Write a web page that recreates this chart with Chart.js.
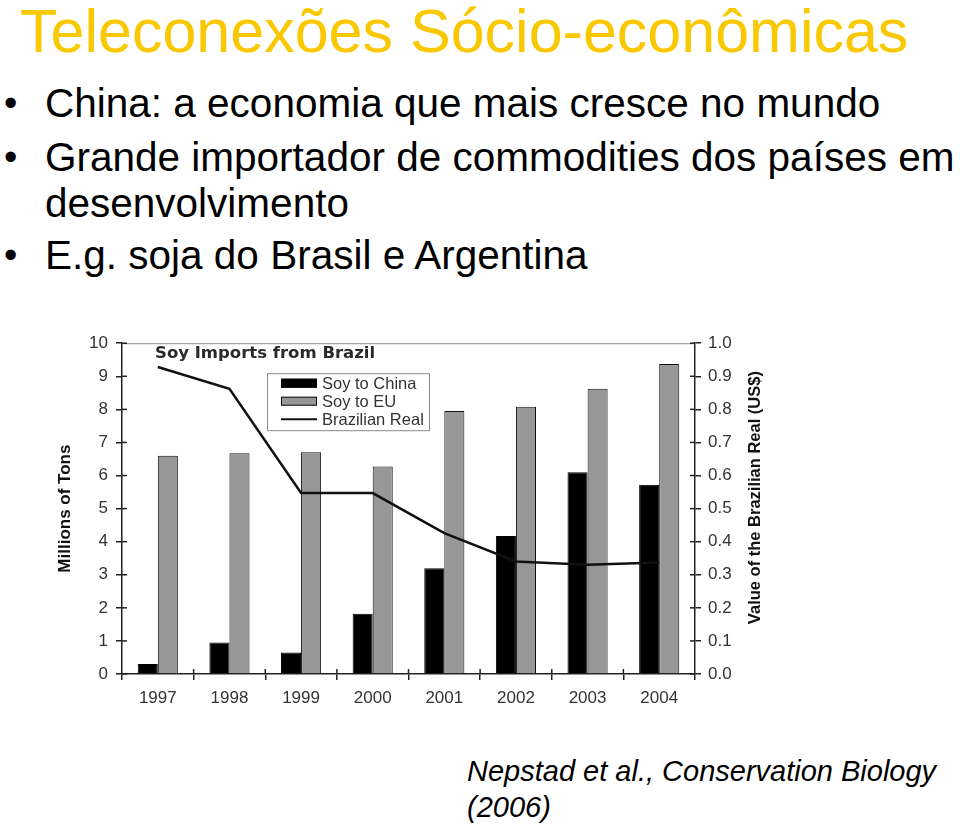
<!DOCTYPE html>
<html lang="pt">
<head>
    <meta charset="UTF-8">
    <title>Teleconexões Sócio-econômicas</title>
    <script src="https://cdn.jsdelivr.net/npm/chart.js"></script>
    <style>
        body { margin: 0; width: 960px; height: 825px; background: #fff; position: relative; overflow: hidden;
               font-family: Arial, "Liberation Sans", sans-serif; }
        .title { position: absolute; left: 20px; top: 1px; font-size: 61px; line-height: 60px; color: #fac800; white-space: nowrap; }
        .line { position: absolute; left: 45px; font-size: 40.5px; line-height: 40px; color: #000; white-space: nowrap; }
        .dot { position: absolute; left: 4px; font-size: 38px; line-height: 40px; }
        .cite { position: absolute; left: 467px; font-size: 29px; line-height: 29px; font-style: italic; white-space: nowrap; }
        #box { position: absolute; left: 44px; top: 325px; width: 741px; height: 395px; }
    </style>
</head>
<body>
    <div class="title">Teleconexões Sócio-econômicas</div>

    <div class="dot" style="top:83px">•</div>
    <div class="line" style="top:83px">China: a economia que mais cresce no mundo</div>
    <div class="dot" style="top:137px">•</div>
    <div class="line" style="top:137px">Grande importador de commodities dos países em</div>
    <div class="line" style="top:183px">desenvolvimento</div>
    <div class="dot" style="top:235px">•</div>
    <div class="line" style="top:235px">E.g. soja do Brasil e Argentina</div>

    <div id="box"><canvas id="soyChart"></canvas></div>

    <div class="cite" style="top:757px">Nepstad et al., Conservation Biology</div>
    <div class="cite" style="top:793px">(2006)</div>
<script>
    // values
    var years = ['1997', '1998', '1999', '2000', '2001', '2002', '2003', '2004'];
    var soyChina = [0.3, 0.95, 0.65, 1.82, 3.2, 4.17, 6.1, 5.72];
    var soyEU = [6.6, 6.67, 6.7, 6.27, 7.95, 8.08, 8.62, 9.37];
    var realUSD = [0.928, 0.862, 0.547, 0.547, 0.426, 0.34, 0.33, 0.337];

    var chartTitle = 'Soy Imports from Brazil';
    var leftTitle = 'Millions of Tons';
    var rightTitle = 'Value of the Brazilian Real (US$)';

    Chart.defaults.font.family = 'Arial, "Liberation Sans", sans-serif';
    Chart.defaults.font.size = 17;
    Chart.defaults.color = '#333';

    function seg(ctx, x1, y1, x2, y2){
        ctx.beginPath();
        ctx.moveTo(x1, y1);
        ctx.lineTo(x2, y2);
        ctx.stroke();
    }

    // frame, inner half of ticks, title, legend box and axis titles
    var extras = {
        id: 'extras',
        afterDraw: function(chart){
            var ctx = chart.ctx, a = chart.chartArea, s = chart.scales;
            ctx.save();

            ctx.strokeStyle = '#8a8a8a';
            ctx.lineWidth = 1;
            seg(ctx, a.left, a.top + 0.5, a.right, a.top + 0.5);

            ctx.strokeStyle = '#222';
            ctx.lineWidth = 1.5;
            s.y.ticks.forEach(function(t, i){
                var y = s.y.getPixelForTick(i);
                seg(ctx, a.left, y, a.left + 5, y);
            });
            s.y1.ticks.forEach(function(t, i){
                var y = s.y1.getPixelForTick(i);
                seg(ctx, a.right - 5, y, a.right, y);
            });
            var n = years.length, w = (s.x.right - s.x.left) / n;
            for (var i = 1; i < n; i++) {
                var x = s.x.left + i * w;
                seg(ctx, x, a.bottom - 5, x, a.bottom);
            }

            // chart title
            ctx.fillStyle = '#2a2a2a';
            ctx.font = 'bold 16.5px "DejaVu Sans", Verdana, sans-serif';
            ctx.textAlign = 'left';
            ctx.textBaseline = 'middle';
            ctx.fillText(chartTitle, a.left + 33, a.top + 11);

            // legend
            var lx = a.left + 145, ly = a.top + 30;
            ctx.strokeStyle = '#8a8a8a';
            ctx.lineWidth = 1;
            ctx.strokeRect(lx + 0.5, ly + 0.5, 162, 57);
            ctx.font = '16.5px Arial, "Liberation Sans", sans-serif';
            chart.data.datasets.forEach(function(ds, k){
                var cy = ly + 10 + k * 18;
                if (ds.type === 'line') {
                    ctx.strokeStyle = ds.borderColor;
                    ctx.lineWidth = 2;
                    seg(ctx, lx + 14, cy, lx + 50, cy);
                } else {
                    ctx.fillStyle = ds.backgroundColor;
                    ctx.fillRect(lx + 14, cy - 4.5, 36, 9);
                    ctx.strokeStyle = ds.borderColor;
                    ctx.lineWidth = 1;
                    ctx.strokeRect(lx + 14.5, cy - 4, 35, 8);
                }
                ctx.fillStyle = '#333';
                ctx.fillText(ds.label, lx + 55, cy + 1);
            });

            // axis titles, both read bottom to top
            ctx.fillStyle = '#111';
            ctx.font = 'bold 17px Arial, "Liberation Sans", sans-serif';
            ctx.textAlign = 'center';
            ctx.save();
            ctx.translate(21, (a.top + a.bottom) / 2);
            ctx.rotate(-Math.PI / 2);
            ctx.fillText(leftTitle, 0, 0);
            ctx.restore();
            ctx.save();
            ctx.font = 'bold 16.5px Arial, "Liberation Sans", sans-serif';
            ctx.translate(a.right + 60, (a.top + a.bottom) / 2 - 11);
            ctx.rotate(-Math.PI / 2);
            ctx.fillText(rightTitle, 0, 0);
            ctx.restore();

            ctx.restore();
        }
    };

    var axisGrid = { drawOnChartArea: false, color: '#222', lineWidth: 1.5, tickLength: 6 };
    var axisBorder = { display: true, color: '#222', width: 1.5 };

    new Chart(document.querySelector('#soyChart'), {
        type: 'bar',
        data: {
            labels: years,
            datasets: [
                {
                    label: 'Soy to China',
                    data: soyChina,
                    yAxisID: 'y',
                    backgroundColor: '#000',
                    borderColor: '#000',
                    borderWidth: 1,
                    order: 1
                },
                {
                    label: 'Soy to EU',
                    data: soyEU,
                    yAxisID: 'y',
                    backgroundColor: '#979797',
                    borderColor: '#111',
                    borderWidth: 1,
                    order: 1
                },
                {
                    type: 'line',
                    label: 'Brazilian Real',
                    data: realUSD,
                    yAxisID: 'y1',
                    borderColor: '#111',
                    borderWidth: 2.5,
                    pointRadius: 0,
                    tension: 0,
                    order: 0
                }
            ]
        },
        options: {
            responsive: true,
            maintainAspectRatio: false,
            animation: false,
            layout: { padding: { top: 16, left: 0, right: 0, bottom: 0 } },
            datasets: { bar: { categoryPercentage: 0.56, barPercentage: 1.0 } },
            plugins: { legend: { display: false }, title: { display: false }, tooltip: { enabled: false } },
            scales: {
                x: {
                    grid: Object.assign({ offset: true }, axisGrid),
                    border: axisBorder,
                    ticks: { padding: 8, maxRotation: 0 },
                    afterFit: function(scale){ scale.height = 46; }
                },
                y: {
                    position: 'left',
                    min: 0, max: 10,
                    ticks: { stepSize: 1, padding: 8 },
                    grid: axisGrid,
                    border: axisBorder,
                    afterFit: function(scale){ scale.width = 78; }
                },
                y1: {
                    position: 'right',
                    min: 0, max: 1,
                    ticks: { stepSize: 0.1, padding: 7, callback: function(v){ return v.toFixed(1); } },
                    grid: axisGrid,
                    border: axisBorder,
                    afterFit: function(scale){ scale.width = 90; }
                }
            }
        },
        plugins: [extras]
    });
</script>
</body>
</html>
